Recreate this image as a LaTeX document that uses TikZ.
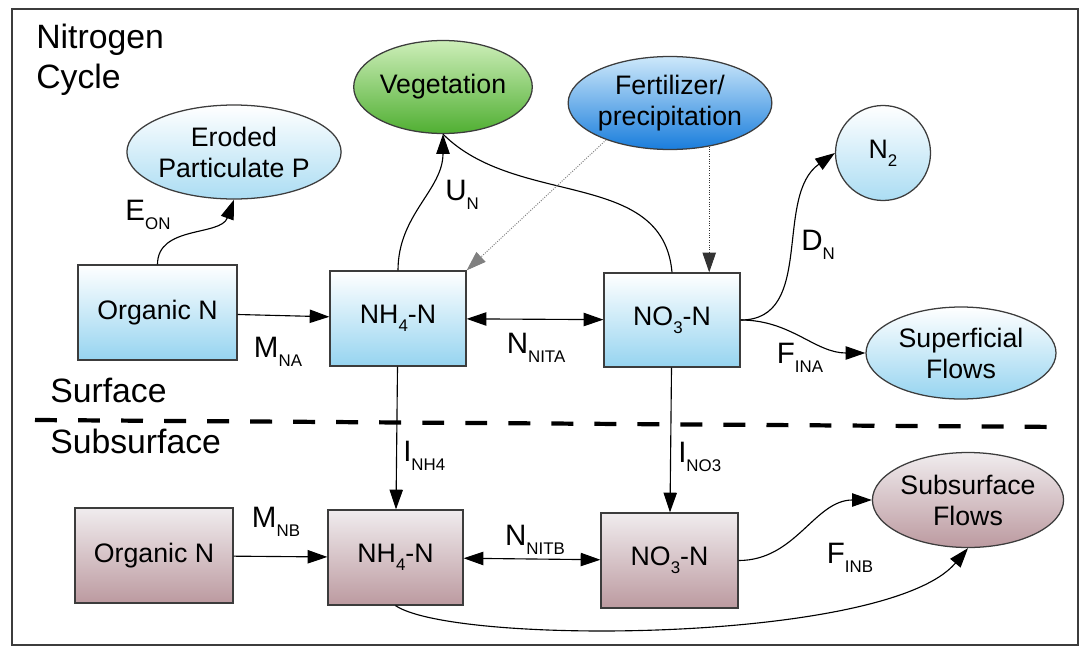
\documentclass[tikz,border=0pt]{standalone}
\usepackage{fontspec}
\setmainfont{Liberation Sans}
\usetikzlibrary{arrows.meta,shapes.geometric,positioning}

\definecolor{surfblue}{RGB}{150,212,240}
\definecolor{subtop}{RGB}{240,236,238}
\definecolor{submauve}{RGB}{188,154,160}
\definecolor{vegtop}{RGB}{205,238,185}
\definecolor{vegbot}{RGB}{80,175,50}
\definecolor{ferttop}{RGB}{205,232,250}
\definecolor{fertbot}{RGB}{25,125,220}
\definecolor{edge}{RGB}{60,60,60}

\newcommand{\sbs}[1]{\raisebox{-0.55ex}{\fontsize{12}{12}\selectfont #1}}

\begin{document}
\begin{tikzpicture}[x=0.025cm, y=-0.025cm, > = {Triangle[length=14pt,width=9.5pt]},
    flux/.style = {line width=0.8pt, ->},
    supply/.style = {line width=0.7pt, densely dotted, ->},
    pool/.style = {rectangle, draw=edge, line width=0.9pt, inner sep=0pt, font=\fontsize{19}{22}\selectfont},
    surfpool/.style = {pool, top color=white, bottom color=surfblue},
    subpool/.style = {pool, top color=subtop, bottom color=submauve},
    store/.style = {ellipse, draw=edge, line width=0.9pt, inner sep=0pt, align=center, font=\fontsize{19}{22}\selectfont},
    lbl/.style = {inner sep=0pt, font=\fontsize{21}{24}\selectfont},
    zone/.style = {inner sep=0pt, anchor=west, font=\fontsize{24}{28}\selectfont}]

    \useasboundingbox (0,0) rectangle (1083,651);
    \draw[line width=0.9pt, edge] (12,9) rectangle (1078,645);

    % titles
    \node[zone, anchor=north west, align=left] (title) at (36,24) {Nitrogen\\Cycle};
    \node[zone] (surf) at (50,390) {Surface};
    \node[zone] (subsurf) at (50,441) {Subsurface};
    \draw[line width=3pt, dash pattern=on 15.6pt off 15pt] (35,420) -- (1062,427);

    % surface pools
    \node[surfpool, minimum width=159*0.025cm, minimum height=95*0.025cm] (orgA) at (157.5,312.5) {Organic N};
    \node[surfpool, minimum width=136*0.025cm, minimum height=95*0.025cm] (nhA) at (398,318.5) {NH\sbs{4}-N};
    \node[surfpool, minimum width=136*0.025cm, minimum height=94*0.025cm] (noA) at (672,320) {NO\sbs{3}-N};

    % subsurface pools
    \node[subpool, minimum width=158*0.025cm, minimum height=95*0.025cm] (orgB) at (154,555.5) {Organic N};
    \node[subpool, minimum width=135*0.025cm, minimum height=95*0.025cm] (nhB) at (395.5,557.5) {NH\sbs{4}-N};
    \node[subpool, minimum width=137*0.025cm, minimum height=95*0.025cm] (noB) at (669.5,560.5) {NO\sbs{3}-N};

    % sources and sinks
    \node[store, top color=white, bottom color=surfblue!80, minimum width=189*0.025cm, minimum height=94*0.025cm] (eroded) at (234,152) {Eroded\\Particulate P};
    \node[store, top color=vegtop, bottom color=vegbot, minimum width=158*0.025cm, minimum height=93*0.025cm] (veg) at (443,87) {Vegetation};
    \node[store, top color=ferttop, bottom color=fertbot, minimum width=186*0.025cm, minimum height=93*0.025cm] (fert) at (670,103) {Fertilizer/\\precipitation};
    \node[store, circle, top color=white, bottom color=surfblue!80, minimum size=95*0.025cm] (n2) at (883,153) {N\sbs{2}};
    \node[store, top color=white, bottom color=surfblue, minimum width=190*0.025cm, minimum height=92*0.025cm] (superf) at (961,353) {Superficial\\Flows};
    \node[store, top color=subtop, bottom color=submauve, minimum width=189*0.025cm, minimum height=95*0.025cm] (subflow) at (968,500) {Subsurface\\Flows};

    % surface fluxes
    \draw[flux] (orgA.north) to[out=90, in=-110] (eroded.south);
    \draw[flux] (orgA) -- (nhA);
    \draw[flux, <->] (nhA) -- (noA);
    \draw[flux] (nhA.north) to[out=90, in=-90] (veg.south);
    \draw[line width=0.8pt] (noA.north) to[out=95, in=-45] (veg.south);
    \draw[flux] (noA.east) to[out=0, in=-145] (n2.west);
    \draw[flux] (noA.east) to[out=0, in=180] (superf.west);
    \draw[supply, gray] (fert.210) -- (nhA.north east);
    \draw[supply, black!80] (fert.-48) -- (fert.-48 |- noA.north);

    % leaching and subsurface fluxes
    \draw[flux] (nhA) -- (nhB);
    \draw[flux] (noA) -- (noB);
    \draw[flux] (orgB) -- (nhB);
    \draw[flux, <->] (nhB) -- (noB);
    \draw[flux] (noB.east) to[out=0, in=180] (subflow.west);
    \draw[flux] (nhB.south) .. controls +(60,40) and +(-80,95) .. (subflow.south);

    % flux labels
    \node[lbl] (eon) at (148,215) {E\sbs{ON}};
    \node[lbl] (mna) at (278,352) {M\sbs{NA}};
    \node[lbl] (nnita) at (536,348) {N\sbs{NITA}};
    \node[lbl] (un) at (462,195) {U\sbs{N}};
    \node[lbl] (dn) at (818,245) {D\sbs{N}};
    \node[lbl] (fina) at (800,358) {F\sbs{INA}};
    \node[lbl, anchor=west] (inh) at (403,456) {I\sbs{NH4}};
    \node[lbl, anchor=west] (ino) at (678,457) {I\sbs{NO3}};
    \node[lbl] (mnb) at (276,522) {M\sbs{NB}};
    \node[lbl] (nnitb) at (535,540) {N\sbs{NITB}};
    \node[lbl] (finb) at (850,558) {F\sbs{INB}};

\end{tikzpicture}
\end{document}
